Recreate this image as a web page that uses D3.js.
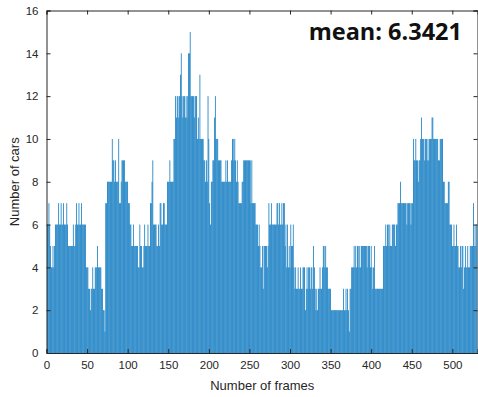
<!DOCTYPE html>
<html>
<head>
<meta charset="utf-8">
<script src="https://cdn.jsdelivr.net/npm/d3@7"></script>
<style>
  body { margin: 0; background: #fff; }
  svg { display: block; }
</style>
</head>
<body>
<svg id="chart"></svg>
<script>
// cars detected per frame (frames 1..530)
const cars = [
  6,6,7,6,5,4,4,5,4,5, 6,6,6,6,7,6,6,7,6,6, 7,6,6,6,7,6,5,5,5,5, 5,5,6,5,5,6,7,6,6,7,
  6,6,7,6,6,6,6,6,4,4, 4,3,3,2,3,3,4,3,3,4, 4,4,5,4,4,4,4,3,3,2, 2,1,7,7,8,8,8,8,8,8,
  10,9,9,8,9,8,8,8,10,7, 7,8,9,9,9,9,8,8,8,8, 7,7,6,6,5,5,6,5,5,5, 5,5,4,4,6,5,5,4,4,5,
  6,5,5,5,6,5,5,7,7,8, 9,6,6,6,6,5,5,6,5,7, 7,6,6,7,7,6,6,6,8,8, 8,9,8,8,8,8,10,10,12,11,
  12,12,11,12,13,14,12,11,12,12, 11,12,11,12,14,14,15,12,12,12, 12,11,12,12,12,10,11,10,13,10,
  10,10,10,9,9,8,9,8,12,10, 7,6,8,8,9,9,11,12,10,10, 10,9,9,9,9,8,8,8,8,8,
  9,8,9,8,8,8,8,9,10,10, 9,10,9,8,9,8,7,7,7,7, 8,8,9,9,9,9,9,9,9,9, 9,7,9,7,7,7,7,6,6,6,
  5,6,5,4,4,5,3,5,5,5, 5,4,5,7,6,6,7,6,6,6, 6,6,6,7,7,6,7,6,6,7, 6,7,7,5,6,4,6,4,5,4,
  6,5,5,6,4,3,4,3,3,4, 3,3,4,3,3,4,4,4,2,3, 4,3,4,4,3,4,4,3,5,4, 3,2,3,2,3,3,4,3,3,4,
  5,5,4,5,4,4,3,3,3,3, 2,2,2,2,2,2,2,2,2,2, 2,2,2,2,2,3,2,2,3,2, 3,2,1,3,3,4,4,4,5,4,
  5,4,5,5,4,5,4,5,5,5, 5,5,5,5,4,5,5,5,4,5, 4,3,4,5,3,3,3,3,3,3, 3,3,3,3,5,5,5,6,5,6,
  6,5,6,5,5,6,6,6,6,5, 6,6,7,7,7,8,7,7,7,7, 7,7,7,6,7,7,7,7,6,7, 7,10,9,9,10,9,9,8,9,9,
  10,11,10,10,10,9,10,10,9,10, 9,10,10,10,11,11,10,10,10,10, 10,10,9,9,10,10,10,10,8,8,
  7,7,7,7,8,8,6,6,6,5, 5,6,5,5,6,5,5,4,4,5, 4,5,5,3,4,5,4,4,5,4, 4,5,5,5,5,7,5,6,5,6
];
const xTicks = [0, 50, 100, 150, 200, 250, 300, 350, 400, 450, 500];
const yTicks = [0, 2, 4, 6, 8, 10, 12, 14, 16];
const meanLabel = "mean: 6.3421";

const W = 478, H = 397;
const m = { left: 46.5, right: 0.5, top: 10.5, bottom: 44 };
const svg = d3.select("#chart").attr("width", W).attr("height", H);

const x = d3.scaleLinear().domain([0, cars.length + 1]).range([m.left, W - m.right]);
const y = d3.scaleLinear().domain([0, 16]).range([H - m.bottom, m.top]);

const bw = (x(1) - x(0)) * 0.92;

svg.append("g")
  .selectAll("rect")
  .data(cars)
  .join("rect")
  .attr("x", (d, i) => x(i + 1) - bw / 2)
  .attr("width", bw)
  .attr("y", d => y(d))
  .attr("height", d => y(0) - y(d))
  .attr("fill", "#0072BD");

const axisColor = "#262626";
const font = "Liberation Sans, Arial, sans-serif";

const xAxis = svg.append("g")
  .attr("transform", `translate(0,${y(0)})`)
  .call(d3.axisBottom(x).tickValues(xTicks).tickSize(-4).tickPadding(8));
const xTop = svg.append("g")
  .attr("transform", `translate(0,${y(16)})`)
  .call(d3.axisTop(x).tickValues(xTicks).tickSize(-4).tickFormat(""));
const yAxis = svg.append("g")
  .attr("transform", `translate(${x(0)},0)`)
  .call(d3.axisLeft(y).tickValues(yTicks).tickSize(-4).tickPadding(8));
const yRight = svg.append("g")
  .attr("transform", `translate(${W - m.right},0)`)
  .call(d3.axisRight(y).tickValues(yTicks).tickSize(-4).tickFormat(""));

[xAxis, xTop, yAxis, yRight].forEach(g => {
  g.selectAll("path").attr("stroke", axisColor).attr("stroke-width", 1);
  g.selectAll("line").attr("stroke", axisColor).attr("stroke-width", 1);
  g.selectAll("text").attr("fill", axisColor).style("font-family", font).style("font-size", "11.5px");
});

svg.append("text")
  .attr("x", (x(0) + W) / 2)
  .attr("y", 390)
  .attr("text-anchor", "middle")
  .attr("fill", axisColor)
  .style("font-family", font)
  .style("font-size", "13px")
  .text("Number of frames");

svg.append("text")
  .attr("transform", `translate(19,${(y(0) + y(16)) / 2}) rotate(-90)`)
  .attr("text-anchor", "middle")
  .attr("fill", axisColor)
  .style("font-family", font)
  .style("font-size", "13px")
  .text("Number of cars");

svg.append("text")
  .attr("x", 462)
  .attr("y", 40)
  .attr("text-anchor", "end")
  .attr("fill", "#111")
  .style("font-family", "Open Sans, sans-serif")
  .style("font-weight", "bold")
  .style("font-size", "23.5px")
  .text(meanLabel);
</script>
</body>
</html>
